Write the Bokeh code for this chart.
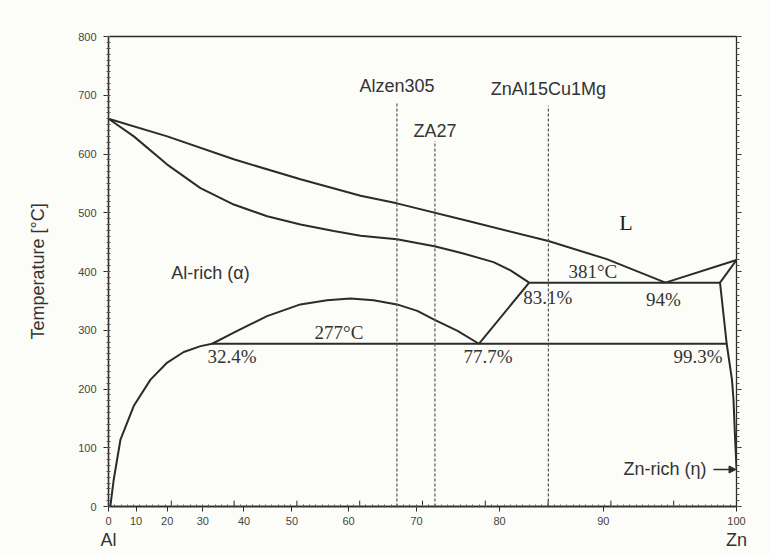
import numpy as np
from bokeh.plotting import figure
from bokeh.models import (Range1d, LinearAxis, FixedTicker, SingleIntervalTicker,
                          Label, Arrow, NormalHead, CustomJSTickFormatter)
from bokeh.core.properties import value
from bokeh.embed import file_html
from bokeh.resources import INLINE

# ---------------- data (wt.% Zn, temperature in degC) ----------------
x_tick_wt = [0, 10, 20, 30, 40, 50, 60, 70, 80, 90, 100]
at_major = [10, 20, 30, 40, 50, 60, 70, 80, 90]
end_names = ["Al", "Zn"]
end_wt = [0, 100]
y_ticks_interval = 100

liquidus_wt = [0, 20.0, 37.65, 51.62, 61.9, 67.3, 76.7, 85.0, 90.3, 95.0]
liquidus_T = [660, 630, 591, 557, 529, 516, 485, 452, 421, 381]

solidus_wt = [0, 9.24, 20.0, 29.37, 37.65, 45.04, 51.62, 57.55, 61.9, 67.3,
              72.34, 75.55, 79.34, 81.17, 83.1]
solidus_T = [660, 630, 582, 542, 514, 494, 480, 469, 461, 455,
             443, 432, 416, 402, 381]

solvus_wt = [0.7, 2.0, 4.5, 9.2, 14.8, 20.0, 24.8, 29.4, 32.4]
solvus_T = [0, 46, 114, 171, 216, 245, 263, 273, 277]

gap_wt = [32.4, 37.65, 41.4, 45.0, 51.6, 56.4, 60.3, 63.9, 67.3, 70.1, 72.3, 75.2, 77.7]
gap_T = [277, 296, 310, 324, 344, 351, 354, 351, 344, 333, 318, 299, 277]

mono_wt = [77.7, 83.1]
mono_T = [277, 381]

eutectic_wt = [83.1, 98.9]
eutectic_T = [381, 381]

eutectoid_wt = [32.4, 99.35]
eutectoid_T = [277, 277]

zn_liq_wt = [95.0, 100.0]
zn_liq_T = [381, 419.5]

zn_sol_wt = [100.0, 98.9]
zn_sol_T = [419.5, 381]

eta_wt = [98.9, 99.35, 99.7, 99.8, 99.9, 100.0]
eta_T = [381, 277, 216, 183, 120, 65]

alloy_names = ["Alzen305", "ZA27", "ZnAl15Cu1Mg"]
alloy_wt = [67.3, 72.4, 85.0]
alloy_top = [688, 622, 682]
alloy_label_T = [715, 640, 710]


def wt_to_at(w):
    """weight-% Zn -> atomic-% Zn (the horizontal scale of the diagram)"""
    w = np.asarray(w, dtype=float)
    a = w / 65.38
    b = (100.0 - w) / 26.98
    return 100.0 * a / (a + b)


LINE = "#2b2b2b"
SANS = "Liberation Sans"
SERIF = "Liberation Serif"
BG = "#fcfdf8"

p = figure(width=770, height=556, output_backend="svg", toolbar_location=None,
           x_range=Range1d(0, 100), y_range=Range1d(0, 800),
           min_border_left=108, min_border_right=34, min_border_top=36,
           min_border_bottom=50, background_fill_color=BG, border_fill_color=BG)
p.grid.visible = False
p.outline_line_color = LINE
p.outline_line_width = 1.3

# x axis: linear in at.% but labelled in wt.%
tick_pos = [round(float(v), 6) for v in wt_to_at(x_tick_wt)]
xt = FixedTicker(ticks=tick_pos, minor_ticks=list(range(1, 100)))
p.xaxis.ticker = xt
p.xaxis.major_label_overrides = {tp: str(w) for tp, w in zip(tick_pos, x_tick_wt)}
p.xaxis.major_tick_out = 5
p.xaxis.major_tick_in = 0
p.xaxis.minor_tick_in = 2
p.xaxis.minor_tick_out = 1

yt = SingleIntervalTicker(interval=y_ticks_interval, num_minor_ticks=10)
p.yaxis.ticker = yt
p.yaxis.major_tick_out = 5
p.yaxis.major_tick_in = 0
p.yaxis.minor_tick_in = 2
p.yaxis.minor_tick_out = 2
p.yaxis.major_label_standoff = 7
p.yaxis.axis_label = "Temperature [°C]"
p.yaxis.axis_label_text_font = SANS
p.yaxis.axis_label_text_font_size = "18px"
p.yaxis.axis_label_text_font_style = "normal"
p.yaxis.axis_label_text_color = "#333333"
p.yaxis.axis_label_standoff = 27

for ax in (p.xaxis, p.yaxis):
    ax.major_label_text_font = SANS
    ax.major_label_text_font_size = "11px"
    ax.major_label_text_color = "#444444"
    ax.axis_line_color = LINE
    ax.axis_line_width = 1.3
    ax.major_tick_line_color = LINE
    ax.minor_tick_line_color = "#555555"

# second row under the x axis: component names
end_pos = [round(float(v), 6) for v in wt_to_at(end_wt)]
comp_axis = LinearAxis(ticker=FixedTicker(ticks=end_pos, minor_ticks=[]),
                       major_label_overrides={tp: n for tp, n in zip(end_pos, end_names)},
                       axis_line_color=None, major_tick_line_color=None,
                       minor_tick_line_color=None, major_tick_out=0, major_tick_in=0,
                       major_label_standoff=2, major_label_text_font=SANS,
                       major_label_text_font_size="18px",
                       major_label_text_color="#333333")
p.add_layout(comp_axis, "below")

right = LinearAxis(ticker=SingleIntervalTicker(interval=y_ticks_interval, num_minor_ticks=10),
                   formatter=CustomJSTickFormatter(code="return ''"))
right.major_tick_out = 5
right.major_tick_in = 0
right.minor_tick_out = 3
right.minor_tick_in = 0
right.major_label_standoff = 0
right.axis_line_color = LINE
right.major_tick_line_color = LINE
right.minor_tick_line_color = "#555555"
p.add_layout(right, "right")

# upward ticks at every 10 at.%
p.segment(x0=at_major, y0=[0] * len(at_major), x1=at_major, y1=[10] * len(at_major),
          line_color=LINE, line_width=1)

# ---------------- phase boundaries ----------------
curves = [(liquidus_wt, liquidus_T), (solidus_wt, solidus_T), (solvus_wt, solvus_T),
          (gap_wt, gap_T), (mono_wt, mono_T), (eutectic_wt, eutectic_T),
          (eutectoid_wt, eutectoid_T), (zn_liq_wt, zn_liq_T), (zn_sol_wt, zn_sol_T),
          (eta_wt, eta_T)]
for w, t in curves:
    p.line(wt_to_at(w), t, line_color=LINE, line_width=2)

# alloys
ax_at = wt_to_at(alloy_wt)
p.segment(x0=ax_at, y0=[0] * 3, x1=ax_at, y1=alloy_top, line_color="#555555",
          line_width=1.2, line_dash="3 2")
p.text(x=ax_at, y=alloy_label_T, text=alloy_names, text_font=value(SANS),
       text_font_size="18px", text_color="#333333", text_align="center",
       text_baseline="middle")


# ---------------- annotations ----------------
def lab(x_wt, T, txt, font, size, align="left", color="#333333"):
    p.add_layout(Label(x=float(wt_to_at(x_wt)), y=T, text=txt, text_font=font,
                       text_font_size=size, text_align=align, text_baseline="middle",
                       text_color=color))


lab(21.2, 398, "Al-rich (α)", SANS, "18px")
lab(91.9, 483, "L", SERIF, "22px", align="center", color="#222222")
lab(86.9, 400, "381°C", SERIF, "19px")
lab(82.5, 356, "83.1%", SERIF, "19px")
lab(93.5, 353, "94%", SERIF, "19px")
lab(54.2, 296, "277°C", SERIF, "19px")
lab(31.2, 256, "32.4%", SERIF, "19px")
lab(75.9, 256, "77.7%", SERIF, "19px")
lab(95.6, 256, "99.3%", SERIF, "19px")
lab(91.7, 63, "Zn-rich (η)", SANS, "18px")

p.add_layout(Arrow(end=NormalHead(size=7, fill_color=LINE, line_color=LINE),
                   x_start=float(wt_to_at(98.45)), y_start=63,
                   x_end=float(wt_to_at(99.97)), y_end=63,
                   line_color=LINE, line_width=1.5))

open("out.html", "w").write(file_html(p, INLINE))
